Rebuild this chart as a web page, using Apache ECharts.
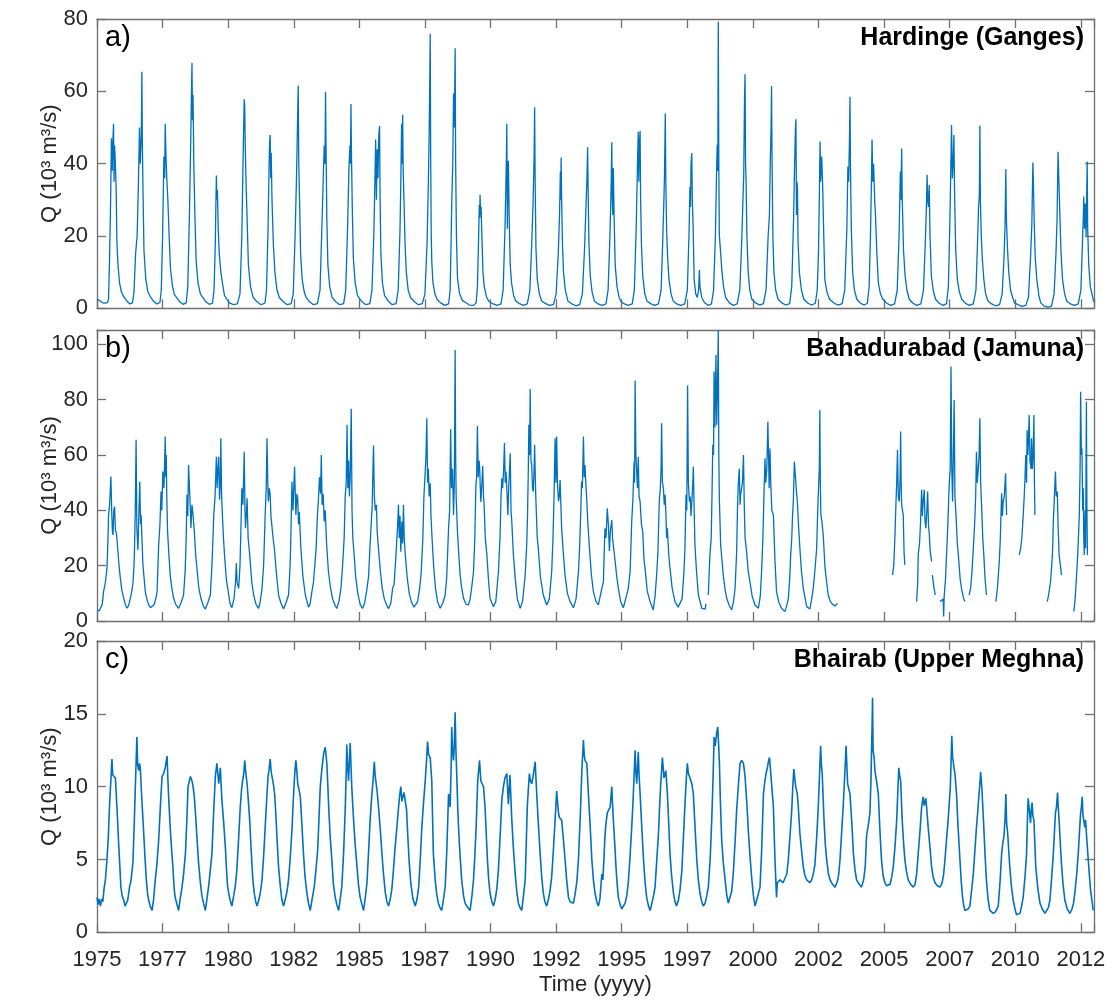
<!DOCTYPE html>
<html>
<head>
<meta charset="utf-8">
<script src="https://cdn.jsdelivr.net/npm/echarts@6/dist/echarts.min.js"></script>
<style>
html, body { margin: 0; padding: 0; background: #ffffff; }
#chart { width: 1113px; height: 1003px; }
</style>
</head>
<body>
<div id="chart"></div>
<script>
// Daily discharge (10^3 m^3/s) traced as [decimal year, Q]; null marks a gap in the record.
const hardinge = [
[1975.00,2.6],[1975.05,2.2],[1975.12,2.0],[1975.20,1.6],[1975.30,1.4],[1975.40,1.6],[1975.44,2.5],[1975.48,14],[1975.52,30],[1975.55,47],[1975.58,38],[1975.60,45],[1975.63,51],[1975.65,35],[1975.67,45],[1975.70,40],[1975.73,33],[1975.76,18],[1975.80,12],[1975.86,7],[1975.93,4.5],
[1976.02,3.2],[1976.12,2.2],[1976.25,1.2],[1976.35,1.5],[1976.41,4.5],[1976.47,15],[1976.53,20],[1976.58,35],[1976.62,50],[1976.65,40],[1976.69,48],[1976.71,65.4],[1976.73,45],[1976.75,34],[1976.79,16],[1976.86,8],[1976.94,4.5],
[1977.05,3],[1977.15,2],[1977.28,1.2],[1977.40,1.6],[1977.45,5],[1977.50,20],[1977.55,42],[1977.58,36],[1977.60,51],[1977.63,42],[1977.66,36],[1977.70,30],[1977.75,20],[1977.80,11],[1977.88,6],[1977.95,3.8],
[1978.05,2.8],[1978.15,1.8],[1978.28,1.1],[1978.40,1.5],[1978.46,6],[1978.52,25],[1978.57,45],[1978.60,59.4],[1978.62,67.9],[1978.64,52],[1978.66,59],[1978.69,40],[1978.73,26],[1978.78,13],[1978.85,7],[1978.94,4],
[1979.05,2.8],[1979.15,1.8],[1979.28,1.1],[1979.40,1.4],[1979.46,5],[1979.51,18],[1979.53,28],[1979.55,36.7],[1979.57,30],[1979.59,32.7],[1979.62,22],[1979.66,15],[1979.72,10],[1979.78,7],[1979.86,3.5],[1979.95,2.5],
[1980.05,1.5],[1980.20,1.0],[1980.35,1.2],[1980.45,4],[1980.52,20],[1980.56,38],[1980.59,50],[1980.61,57.8],[1980.63,56],[1980.65,45],[1980.68,35],[1980.72,25],[1980.77,12],[1980.85,6],[1980.95,3],
[1981.10,1.8],[1981.25,1.0],[1981.40,1.4],[1981.46,5],[1981.52,22],[1981.56,40],[1981.58,46],[1981.60,47.9],[1981.62,36],[1981.64,43],[1981.67,30],[1981.72,18],[1981.78,10],[1981.86,5],[1981.95,3],
[1982.10,1.8],[1982.25,1.0],[1982.40,1.3],[1982.48,4],[1982.55,20],[1982.60,35],[1982.64,50],[1982.67,61.6],[1982.69,40],[1982.72,30],[1982.76,15],[1982.82,8],[1982.90,4.5],[1982.97,3],
[1983.10,1.8],[1983.25,1.0],[1983.40,1.3],[1983.50,5],[1983.57,22],[1983.62,35],[1983.66,45],[1983.69,40],[1983.71,59.9],[1983.73,45],[1983.76,25],[1983.80,12],[1983.87,6],[1983.96,3],
[1984.10,1.8],[1984.25,1.0],[1984.40,1.3],[1984.48,5],[1984.55,22],[1984.60,38],[1984.64,45],[1984.66,40],[1984.68,56.5],[1984.70,42],[1984.73,28],[1984.77,14],[1984.84,7],[1984.93,3.5],
[1985.10,1.8],[1985.25,1.0],[1985.40,1.3],[1985.48,5],[1985.55,20],[1985.60,38],[1985.62,46.7],[1985.65,30],[1985.68,44],[1985.71,36],[1985.74,48],[1985.77,50.4],[1985.79,30],[1985.82,15],[1985.88,7],[1985.96,3.5],
[1986.10,2],[1986.25,1.0],[1986.40,1.3],[1986.48,5],[1986.55,22],[1986.58,35],[1986.61,51],[1986.63,40],[1986.65,53.5],[1986.67,38],[1986.70,30],[1986.74,18],[1986.79,10],[1986.86,5],[1986.95,3],
[1987.10,1.8],[1987.25,1.0],[1987.40,1.3],[1987.50,4],[1987.58,18],[1987.63,35],[1987.66,48],[1987.68,61],[1987.70,75.9],[1987.72,40],[1987.74,20],[1987.76,13],[1987.80,7.4],[1987.88,4],[1987.96,2.5],
[1988.10,1.5],[1988.25,0.8],[1988.40,1.2],[1988.46,5],[1988.50,20],[1988.52,29],[1988.56,40],[1988.59,59.4],[1988.62,50],[1988.65,71.9],[1988.67,40],[1988.70,20],[1988.74,8.3],[1988.82,4],[1988.92,2.2],
[1989.05,1.6],[1989.20,0.9],[1989.35,0.8],[1989.45,1.5],[1989.50,6],[1989.54,18],[1989.57,28.6],[1989.59,25],[1989.60,31.3],[1989.62,26],[1989.64,28],[1989.67,20],[1989.71,10],[1989.76,6],[1989.85,3],[1989.95,1.8],
[1990.10,1.2],[1990.25,0.8],[1990.40,1.2],[1990.48,5],[1990.55,22],[1990.60,40],[1990.62,51],[1990.64,22],[1990.66,35],[1990.68,40.8],[1990.71,25],[1990.75,12],[1990.80,7],[1990.88,3.5],[1990.96,2],
[1991.10,1.3],[1991.25,0.8],[1991.40,1.2],[1991.50,5],[1991.57,18],[1991.62,29],[1991.66,42],[1991.68,55.6],[1991.70,35],[1991.73,16.6],[1991.78,8],[1991.86,4],[1991.95,2],
[1992.10,1.3],[1992.25,0.8],[1992.40,1.1],[1992.50,4],[1992.58,15],[1992.63,26],[1992.66,37.8],[1992.68,30],[1992.69,41.7],[1992.71,30],[1992.74,18],[1992.78,10],[1992.85,5],[1992.95,2],
[1993.10,1.2],[1993.25,0.7],[1993.40,1.1],[1993.50,4],[1993.58,16],[1993.64,28.6],[1993.67,35],[1993.70,44.5],[1993.72,32],[1993.75,18],[1993.80,9],[1993.87,4.5],[1993.96,2],
[1994.10,1.2],[1994.25,0.8],[1994.40,1.2],[1994.48,5],[1994.55,20],[1994.60,35],[1994.62,45.9],[1994.64,30],[1994.66,25.8],[1994.68,38.7],[1994.71,25],[1994.75,12],[1994.82,6],[1994.90,3],[1994.98,1.8],
[1995.10,1.2],[1995.25,0.8],[1995.40,1.2],[1995.48,5],[1995.55,22],[1995.60,40],[1995.63,48.8],[1995.65,35],[1995.67,45],[1995.70,49],[1995.72,30],[1995.75,18],[1995.80,9],[1995.88,4],[1995.96,2],
[1996.10,1.3],[1996.25,0.8],[1996.40,1.2],[1996.50,5],[1996.56,18],[1996.60,28],[1996.63,36.9],[1996.66,53.9],[1996.68,35],[1996.71,22],[1996.75,14],[1996.80,8],[1996.88,4],[1996.96,2],
[1997.10,1.2],[1997.25,0.8],[1997.40,1.2],[1997.50,5],[1997.57,22],[1997.60,33.6],[1997.62,28],[1997.64,39.6],[1997.67,42.9],[1997.69,30],[1997.72,23],[1997.76,8],[1997.82,4],[1997.88,3],[1997.93,5],[1997.96,10.6],[1997.98,6],[1998.05,3],
[1998.15,1.6],[1998.30,0.8],[1998.42,1.2],[1998.50,5],[1998.57,20],[1998.62,40],[1998.64,45.2],[1998.66,38],[1998.68,79.3],[1998.70,40],[1998.72,20.3],[1998.77,15.2],[1998.82,10],[1998.88,6],[1998.96,3],
[1999.10,1.5],[1999.25,0.8],[1999.40,1.2],[1999.50,5],[1999.57,18],[1999.62,30],[1999.65,36.9],[1999.68,58],[1999.70,64.7],[1999.72,40],[1999.74,35],[1999.77,20],[1999.82,10],[1999.88,5],[1999.96,2.5],
[2000.10,1.5],[2000.25,0.9],[2000.40,1.3],[2000.50,5],[2000.58,20],[2000.63,25.8],[2000.66,40],[2000.69,49.3],[2000.71,61.5],[2000.73,40],[2000.76,20],[2000.80,10],[2000.87,5],[2000.96,2.5],
[2001.10,1.5],[2001.25,0.9],[2001.40,1.3],[2001.48,6],[2001.55,25],[2001.59,40],[2001.62,49.8],[2001.64,52.3],[2001.66,25.8],[2001.68,35],[2001.70,32.7],[2001.72,18.4],[2001.77,10],[2001.85,5],[2001.94,2.5],
[2002.10,1.4],[2002.25,0.9],[2002.38,1.4],[2002.45,5],[2002.50,15.7],[2002.53,30],[2002.56,46.1],[2002.58,35],[2002.62,42],[2002.66,33.6],[2002.70,20],[2002.74,8],[2002.82,4.5],[2002.92,2.5],
[2003.10,1.4],[2003.25,0.9],[2003.40,1.3],[2003.50,5],[2003.58,22],[2003.62,39.2],[2003.65,35],[2003.68,47],[2003.70,58.5],[2003.72,38],[2003.75,22],[2003.80,10],[2003.87,5],[2003.96,2.5],
[2004.10,1.4],[2004.25,0.9],[2004.36,1.4],[2004.43,6],[2004.48,20],[2004.52,36],[2004.54,46.7],[2004.57,35],[2004.60,40],[2004.64,30],[2004.67,26],[2004.72,16],[2004.78,7],[2004.86,4],[2004.95,2.5],
[2005.10,1.4],[2005.25,0.8],[2005.40,1.2],[2005.50,5],[2005.57,20],[2005.62,37.8],[2005.64,30],[2005.67,44.2],[2005.69,30],[2005.71,25],[2005.74,16],[2005.80,9],[2005.87,5],[2005.96,2.5],
[2006.10,1.4],[2006.25,0.8],[2006.40,1.2],[2006.50,5],[2006.57,18],[2006.61,27.6],[2006.64,36.9],[2006.66,30],[2006.69,28],[2006.72,34.1],[2006.75,20],[2006.80,9],[2006.87,5],[2006.96,2.5],
[2007.10,1.4],[2007.25,0.8],[2007.38,1.3],[2007.45,6],[2007.51,25],[2007.55,42],[2007.57,50.7],[2007.60,35.9],[2007.63,40],[2007.66,47.9],[2007.69,30],[2007.73,16],[2007.79,8],[2007.87,4.5],[2007.96,2.5],
[2008.10,1.4],[2008.25,0.8],[2008.40,1.2],[2008.50,5],[2008.56,18],[2008.60,28],[2008.63,31.3],[2008.65,50.5],[2008.67,30],[2008.70,21],[2008.74,14],[2008.80,8],[2008.87,4],[2008.96,2],
[2009.10,1.2],[2009.25,0.7],[2009.40,1.0],[2009.50,4],[2009.57,14],[2009.61,23],[2009.64,38.5],[2009.66,25],[2009.70,17],[2009.75,10],[2009.82,5],[2009.90,3],[2009.97,1.5],
[2010.10,1.0],[2010.25,0.5],[2010.40,0.8],[2010.50,3],[2010.58,14],[2010.63,23],[2010.67,40.3],[2010.69,35],[2010.72,24],[2010.76,14],[2010.82,8],[2010.90,3.5],[2010.97,1.5],
[2011.10,0.6],[2011.25,0.3],[2011.38,0.6],[2011.48,4],[2011.55,15],[2011.59,24],[2011.63,43.3],[2011.65,38],[2011.69,28],[2011.74,16],[2011.80,8],[2011.88,4],[2011.96,2],
[2012.10,1.2],[2012.25,0.8],[2012.40,1.2],[2012.50,5],[2012.56,18],[2012.60,27],[2012.61,30.9],[2012.64,22],[2012.67,29],[2012.70,20],[2012.74,40.6],[2012.76,22],[2012.80,12],[2012.86,6],[2012.90,5.5],[2012.99,1.8]
];

const bahadurabad = [
[1975.00,4.0],[1975.08,3.6],[1975.13,4.0],[1975.20,6],[1975.25,10.6],[1975.32,14],[1975.38,19],[1975.42,30],[1975.44,38.3],[1975.48,42],[1975.53,52.2],[1975.56,40],[1975.59,32],[1975.61,31.1],[1975.64,40],[1975.67,41.3],[1975.70,33],[1975.74,31.7],[1975.79,26.3],[1975.84,20],[1975.89,15.4],[1975.95,11],[1976.02,8.2],[1976.08,6],[1976.14,4.6],
[1976.20,5.5],[1976.27,8.2],[1976.33,11],[1976.37,13.6],[1976.41,20],[1976.43,26.3],[1976.46,40],[1976.49,65.5],[1976.52,33.5],[1976.56,25.7],[1976.60,40],[1976.63,50.4],[1976.66,35],[1976.68,38.3],[1976.72,28],[1976.75,20.3],[1976.80,15],[1976.84,10.6],[1976.90,8],[1976.97,5.8],[1977.04,4.8],[1977.10,4.3],
[1977.18,6],[1977.25,8.5],[1977.29,10.6],[1977.35,27.5],[1977.40,35],[1977.44,46.8],[1977.47,40],[1977.51,54],[1977.55,48],[1977.58,58],[1977.60,66.7],[1977.62,52],[1977.64,60],[1977.66,45],[1977.69,32.3],[1977.74,24],[1977.79,16.6],[1977.85,12],[1977.92,8.2],[1978.00,6],[1978.11,4.6],
[1978.20,6.5],[1978.30,9.4],[1978.36,18],[1978.40,30],[1978.43,45.6],[1978.46,38],[1978.49,56.4],[1978.53,46.8],[1978.56,40],[1978.58,33.5],[1978.62,42],[1978.66,38.3],[1978.71,32.3],[1978.76,24],[1978.81,19],[1978.88,12],[1978.96,8.2],[1979.05,5.5],[1979.13,4.3],
[1979.22,6.5],[1979.32,9.4],[1979.38,20],[1979.42,30],[1979.45,38.3],[1979.50,45],[1979.55,59.4],[1979.58,48],[1979.61,55],[1979.64,59.4],[1979.67,43.8],[1979.70,50],[1979.72,66.1],[1979.75,45],[1979.78,38.3],[1979.82,30],[1979.86,23.9],[1979.93,15],[1980.02,9.4],[1980.08,6],[1980.14,4.8],
[1980.22,8],[1980.28,14],[1980.31,20.9],[1980.34,14],[1980.40,11.8],[1980.45,20],[1980.49,35],[1980.52,48],[1980.56,42],[1980.59,52],[1980.61,61.2],[1980.64,40],[1980.66,33.5],[1980.69,38],[1980.72,44.4],[1980.76,30],[1980.82,23.9],[1980.90,14],[1980.97,9.4],[1981.06,6],[1981.16,4.6],
[1981.22,7],[1981.29,11.8],[1981.35,20],[1981.41,38.3],[1981.45,48],[1981.48,66.1],[1981.51,50],[1981.53,43.2],[1981.57,48],[1981.60,45.6],[1981.63,38],[1981.67,38.3],[1981.71,30],[1981.76,26.3],[1981.83,18],[1981.92,9.4],[1982.01,6.5],[1982.11,4.3],
[1982.20,6.5],[1982.30,9.4],[1982.36,20],[1982.40,35],[1982.43,50.4],[1982.47,40],[1982.50,48],[1982.53,55.8],[1982.56,45],[1982.58,38.3],[1982.62,46],[1982.65,44.4],[1982.68,35],[1982.71,39.5],[1982.77,26.3],[1982.85,16],[1982.94,9.4],[1983.06,5],
[1983.12,6],[1983.19,10.6],[1983.25,14],[1983.30,20],[1983.35,26],[1983.40,38],[1983.44,44],[1983.48,52],[1983.52,46],[1983.55,60],[1983.58,42],[1983.62,46],[1983.66,36],[1983.70,40],[1983.75,28],[1983.82,18],[1983.90,12],[1983.98,8],[1984.08,5.5],[1984.14,4.5],
[1984.22,7],[1984.30,12],[1984.36,20],[1984.42,30],[1984.46,45],[1984.50,50],[1984.53,70.9],[1984.56,48],[1984.59,58],[1984.62,45],[1984.65,52],[1984.69,76.7],[1984.72,40],[1984.75,30],[1984.80,24],[1984.86,16],[1984.94,10],[1985.03,6],[1985.12,4.5],
[1985.20,6.5],[1985.28,11],[1985.35,16],[1985.40,26],[1985.45,35],[1985.49,42],[1985.52,56],[1985.54,63.4],[1985.57,45],[1985.61,40],[1985.65,42],[1985.68,32],[1985.73,26],[1985.80,18],[1985.87,12],[1985.95,8],[1986.05,5.5],[1986.12,4.5],
[1986.20,6.5],[1986.27,12],[1986.32,13],[1986.37,20],[1986.42,28],[1986.46,35],[1986.49,42],[1986.52,30],[1986.55,38],[1986.58,25],[1986.62,36],[1986.65,28],[1986.68,42],[1986.71,30],[1986.75,24],[1986.82,16],[1986.90,10],[1986.98,7],[1987.08,5],[1987.15,4.5],
[1987.22,7],[1987.30,12],[1987.36,18],[1987.42,30],[1987.46,45],[1987.50,52],[1987.54,60],[1987.57,73.3],[1987.60,50],[1987.63,55],[1987.66,45],[1987.70,49.8],[1987.73,38],[1987.77,30],[1987.83,20],[1987.90,12],[1987.98,7],[1988.08,4.6],
[1988.18,6.5],[1988.27,9.4],[1988.33,16],[1988.40,33.5],[1988.44,40],[1988.48,69.4],[1988.51,48],[1988.55,55],[1988.59,38.3],[1988.62,50],[1988.65,98],[1988.67,60],[1988.69,44.4],[1988.74,32],[1988.79,24],[1988.84,16.6],[1988.90,12],[1988.97,8.2],[1989.07,6],[1989.16,5.8],
[1989.22,8],[1989.28,12],[1989.35,17.8],[1989.40,30],[1989.44,48.6],[1989.47,52],[1989.50,70.5],[1989.53,52],[1989.56,58],[1989.58,56.4],[1989.61,48],[1989.63,43],[1989.67,50],[1989.70,56],[1989.73,45],[1989.75,43],[1989.80,30],[1989.86,23.9],[1989.92,15],[1989.98,8.2],[1990.05,6.5],[1990.11,5.2],
[1990.20,7],[1990.30,17.8],[1990.36,30],[1990.40,45],[1990.43,51.6],[1990.46,48],[1990.50,55],[1990.53,64.3],[1990.56,50],[1990.59,54],[1990.62,48],[1990.66,38.3],[1990.70,50],[1990.75,60.6],[1990.78,40],[1990.81,35.9],[1990.87,24],[1990.94,15.4],[1991.02,8],[1991.13,4.6],
[1991.22,7],[1991.32,16.6],[1991.38,28],[1991.41,38.3],[1991.44,55],[1991.46,70.9],[1991.49,60],[1991.51,83.9],[1991.54,58],[1991.57,56.4],[1991.60,48],[1991.63,46.8],[1991.66,55],[1991.68,63.7],[1991.71,50],[1991.73,43.2],[1991.78,30],[1991.82,26.3],[1991.90,16],[1992.01,9.4],[1992.14,5.8],
[1992.24,8],[1992.33,17.8],[1992.38,30],[1992.42,45],[1992.46,66.1],[1992.49,50],[1992.52,66.7],[1992.55,50],[1992.59,43.2],[1992.62,45],[1992.65,51],[1992.68,42],[1992.71,33.5],[1992.77,25],[1992.84,16.6],[1992.93,10],[1993.03,7],[1993.16,4.8],
[1993.26,8],[1993.35,17.8],[1993.40,28],[1993.44,40],[1993.47,50.4],[1993.50,48],[1993.54,66.7],[1993.57,52],[1993.60,56.4],[1993.63,50],[1993.67,43.2],[1993.71,35],[1993.77,26.3],[1993.84,17],[1993.92,10.6],[1994.02,7],[1994.11,5.8],
[1994.18,9],[1994.24,11.8],[1994.30,14],[1994.36,33.5],[1994.40,30],[1994.45,40.7],[1994.49,35],[1994.53,25.3],[1994.57,33],[1994.62,36.5],[1994.65,30],[1994.68,27.5],[1994.72,24],[1994.75,21.5],[1994.81,16],[1994.87,11.8],[1994.96,7],[1995.06,4.8],
[1995.15,8],[1995.25,11.8],[1995.32,18],[1995.38,35.9],[1995.43,45],[1995.47,57.6],[1995.49,50],[1995.51,86.9],[1995.54,60],[1995.57,60],[1995.60,48],[1995.63,59.4],[1995.66,45],[1995.70,43.2],[1995.75,35],[1995.80,32.3],[1995.85,22],[1995.89,19],[1995.97,11],[1996.08,7],[1996.20,4],
[1996.27,9],[1996.33,16.6],[1996.38,25],[1996.43,43.2],[1996.47,48],[1996.50,55],[1996.52,71.5],[1996.55,50],[1996.59,48],[1996.62,42],[1996.65,45.6],[1996.68,40],[1996.71,30],[1996.74,33.5],[1996.79,24],[1996.84,19],[1996.92,12],[1997.03,7],[1997.15,5],[1997.22,4.3],
[1997.30,8],[1997.36,16],[1997.41,26.3],[1997.45,45.6],[1997.48,40],[1997.51,85.1],[1997.54,50],[1997.58,43.2],[1997.61,45],[1997.64,38],[1997.67,38.3],[1997.70,48],[1997.73,55.8],[1997.76,40],[1997.79,27.5],[1997.85,18],[1997.92,9.4],[1998.00,6.5],[1998.05,4.6],[1998.12,4.0],[1998.18,4.3],[1998.21,6.2],[1998.25,null],
[1998.30,9.4],[1998.36,23.9],[1998.41,30],[1998.44,45],[1998.47,63.7],[1998.50,60],[1998.52,90.2],[1998.55,70],[1998.59,96.2],[1998.62,70.9],[1998.65,85],[1998.68,105.2],[1998.70,60],[1998.72,44.4],[1998.77,27.5],[1998.82,22],[1998.87,16.6],[1998.93,12],[1999.00,8.2],[1999.10,5.5],[1999.19,4],
[1999.26,7],[1999.32,11.8],[1999.38,25],[1999.41,40],[1999.44,49.2],[1999.48,55],[1999.51,42],[1999.53,45.6],[1999.57,48],[1999.60,50],[1999.64,60],[1999.67,42],[1999.70,30],[1999.76,25],[1999.82,18],[1999.89,14],[1999.97,9],[2000.08,5.8],[2000.21,4.6],
[2000.28,9],[2000.33,17.8],[2000.38,30],[2000.42,45],[2000.46,58.8],[2000.49,50],[2000.53,55],[2000.57,72],[2000.60,57.6],[2000.62,48],[2000.65,62.4],[2000.68,50],[2000.72,40],[2000.78,38.3],[2000.84,22],[2000.90,10.6],[2000.98,7],[2001.09,4.6],[2001.22,3.4],
[2001.30,6],[2001.35,8.2],[2001.40,15],[2001.44,23.9],[2001.48,29.9],[2001.51,38],[2001.54,43.2],[2001.58,57.6],[2001.62,52.2],[2001.65,48],[2001.67,45.6],[2001.70,42],[2001.73,35.9],[2001.79,26.3],[2001.85,18],[2001.92,11.8],[2002.05,5.2],[2002.17,4.3],
[2002.24,8],[2002.30,11.8],[2002.36,18],[2002.43,26.3],[2002.47,40],[2002.50,48],[2002.53,55],[2002.55,76.3],[2002.57,50],[2002.59,38.3],[2002.63,36],[2002.68,31.1],[2002.75,19],[2002.81,14],[2002.87,9.4],[2002.95,7],[2003.06,5.8],[2003.14,5.5],[2003.19,5.8],[2003.22,6.5],[2003.23,null],
[2005.32,16.6],[2005.34,18],[2005.37,20.3],[2005.41,30],[2005.45,42],[2005.48,50],[2005.51,61.8],[2005.54,45],[2005.58,43.2],[2005.61,52],[2005.63,68.5],[2005.65,50],[2005.67,42],[2005.70,40],[2005.73,38.3],[2005.76,25],[2005.79,20.3],[2005.80,null],
[2006.24,7],[2006.28,14],[2006.30,23.9],[2006.35,28],[2006.39,35.9],[2006.43,47.4],[2006.46,38],[2006.49,43.2],[2006.53,47.4],[2006.56,36],[2006.59,33.5],[2006.63,40],[2006.66,46.8],[2006.69,35],[2006.72,31.7],[2006.76,25],[2006.81,21.5],[2006.82,null],[2006.84,16.6],[2006.90,12],[2006.95,9.4],[2006.96,null],
[2007.13,7],[2007.20,7.5],[2007.25,8],[2007.27,1.6],[2007.29,9],[2007.34,15],[2007.38,23.9],[2007.43,35],[2007.48,49.2],[2007.52,55],[2007.55,92],[2007.58,55],[2007.61,43.2],[2007.64,60],[2007.67,79.9],[2007.70,45],[2007.74,38.3],[2007.79,28],[2007.83,23.9],[2007.90,15],[2007.95,11.8],[2008.02,8.5],[2008.08,7],[2008.10,null],
[2008.24,9.4],[2008.30,12],[2008.35,18],[2008.40,26.3],[2008.45,35],[2008.49,45],[2008.52,61.2],[2008.55,50],[2008.59,55],[2008.62,60],[2008.65,73.3],[2008.68,50],[2008.71,43.2],[2008.76,30],[2008.80,23.9],[2008.85,15],[2008.90,9.4],[2008.92,null],
[2009.26,7],[2009.32,12],[2009.39,21.5],[2009.43,30],[2009.46,40],[2009.48,46.2],[2009.51,38],[2009.54,43.2],[2009.58,45],[2009.61,50],[2009.63,53.4],[2009.65,45],[2009.67,38.3],[2009.70,null],
[2010.15,23.9],[2010.20,26],[2010.25,30],[2010.30,38],[2010.34,45],[2010.37,52],[2010.40,60],[2010.43,50],[2010.45,69],[2010.48,60],[2010.50,65],[2010.53,74.5],[2010.56,58],[2010.58,57.6],[2010.60,55],[2010.62,66.1],[2010.65,55],[2010.68,60],[2010.71,74.5],[2010.73,50],[2010.75,38.3],[2010.77,null],
[2011.22,7],[2011.28,10],[2011.34,14],[2011.38,19],[2011.42,25],[2011.45,35.9],[2011.49,45],[2011.53,54],[2011.56,45],[2011.60,46.8],[2011.63,35],[2011.67,23.9],[2011.72,20],[2011.76,16.6],[2011.78,null],
[2012.23,3.4],[2012.28,8],[2012.33,15.4],[2012.38,24],[2012.44,38.3],[2012.47,55],[2012.49,82.9],[2012.52,60],[2012.54,62.4],[2012.57,40],[2012.59,48],[2012.61,30],[2012.63,23.9],[2012.66,40],[2012.68,26.3],[2012.71,79.3],[2012.73,40],[2012.75,23.9]
];

const bhairab = [
[1975.00,2.4],[1975.04,1.9],[1975.08,2.3],[1975.13,1.8],[1975.18,2.3],[1975.22,2.1],[1975.27,3.0],[1975.32,3.6],[1975.38,5.0],[1975.43,6.5],[1975.48,8.8],[1975.53,10.5],[1975.57,11.9],[1975.60,10.8],[1975.64,10.7],[1975.70,10.6],[1975.76,8.6],[1975.83,5.9],[1975.88,4.2],[1975.91,3.1],[1975.96,2.5],[1976.02,2.2],[1976.07,1.8],[1976.12,1.9],
[1976.17,2.2],[1976.24,3.1],[1976.30,3.6],[1976.37,4.8],[1976.42,7.5],[1976.47,10.5],[1976.52,13.4],[1976.55,11.5],[1976.59,11.1],[1976.62,11.6],[1976.65,11.3],[1976.71,9.1],[1976.78,6.8],[1976.84,4.8],[1976.88,3.6],[1976.93,2.6],[1976.97,2.2],[1977.03,1.8],[1977.10,1.5],
[1977.16,2.3],[1977.22,3.6],[1977.28,4.6],[1977.35,6.3],[1977.42,8.8],[1977.48,10.7],[1977.54,10.9],[1977.60,11.3],[1977.67,12.1],[1977.70,10.6],[1977.73,9.3],[1977.79,7.2],[1977.85,5.5],[1977.90,4.3],[1977.94,3.0],[1977.98,2.4],[1978.05,1.9],[1978.11,1.5],
[1978.17,2.3],[1978.24,3.1],[1978.30,4.0],[1978.37,5.4],[1978.42,7.5],[1978.47,10.0],[1978.52,10.4],[1978.56,10.7],[1978.62,10.4],[1978.67,9.9],[1978.71,9.3],[1978.76,8.0],[1978.81,6.5],[1978.87,4.8],[1978.94,3.4],[1979.00,2.5],[1979.06,2.0],[1979.13,1.5],
[1979.19,2.3],[1979.25,3.1],[1979.31,4.1],[1979.38,5.4],[1979.44,8.0],[1979.51,10.7],[1979.57,11.6],[1979.64,10.2],[1979.70,11.3],[1979.76,9.1],[1979.83,7.5],[1979.89,5.9],[1979.94,4.2],[1979.98,3.1],[1980.06,2.3],[1980.14,1.8],
[1980.22,2.6],[1980.28,3.3],[1980.33,4.3],[1980.40,6.5],[1980.46,8.6],[1980.51,9.8],[1980.55,10.4],[1980.60,11.0],[1980.63,11.8],[1980.68,10.8],[1980.72,10.2],[1980.77,9.0],[1980.82,7.7],[1980.88,5.5],[1980.94,3.6],[1981.00,2.6],[1981.05,2.1],[1981.10,1.8],
[1981.18,2.3],[1981.24,2.9],[1981.29,3.6],[1981.35,5.2],[1981.41,7.2],[1981.47,9.2],[1981.52,10.7],[1981.56,11.2],[1981.60,11.9],[1981.64,11.0],[1981.67,10.7],[1981.72,10.2],[1981.77,9.5],[1981.82,8.0],[1981.86,6.5],[1981.92,4.5],[1981.99,3.1],[1982.05,2.2],[1982.11,1.8],
[1982.18,2.3],[1982.24,2.8],[1982.30,3.6],[1982.36,5.0],[1982.43,7.0],[1982.48,9.0],[1982.52,10.4],[1982.55,11.2],[1982.58,11.8],[1982.62,11.0],[1982.65,10.2],[1982.70,9.8],[1982.75,9.3],[1982.81,7.4],[1982.87,5.4],[1982.93,3.8],[1983.00,2.7],[1983.06,2.0],[1983.13,1.5],
[1983.20,2.3],[1983.28,3.1],[1983.34,4.2],[1983.41,5.6],[1983.46,7.8],[1983.51,10.0],[1983.57,11.2],[1983.64,12.3],[1983.70,12.7],[1983.76,11.6],[1983.80,10.0],[1983.83,8.6],[1983.89,6.5],[1983.95,5.0],[1984.01,3.3],[1984.08,2.4],[1984.14,1.9],[1984.21,1.5],
[1984.27,2.3],[1984.33,3.1],[1984.40,5.5],[1984.46,8.4],[1984.50,11.0],[1984.52,12.9],[1984.55,11.5],[1984.59,10.4],[1984.62,11.8],[1984.65,13.0],[1984.68,11.5],[1984.71,10.0],[1984.78,7.7],[1984.84,6.0],[1984.91,4.5],[1984.97,3.2],[1985.03,2.4],[1985.10,1.9],[1985.16,1.5],
[1985.22,2.3],[1985.29,3.4],[1985.35,5.5],[1985.41,7.7],[1985.47,9.3],[1985.52,10.4],[1985.57,11.7],[1985.60,10.8],[1985.64,10.2],[1985.68,9.6],[1985.73,8.6],[1985.80,7.0],[1985.86,5.4],[1985.92,4.0],[1985.99,2.7],[1986.05,2.1],[1986.11,1.8],
[1986.18,2.3],[1986.24,3.0],[1986.30,4.3],[1986.36,5.8],[1986.43,7.2],[1986.48,8.3],[1986.53,9.3],[1986.58,10.0],[1986.62,9.0],[1986.66,9.3],[1986.70,9.6],[1986.75,9.7],[1986.80,8.4],[1986.84,6.8],[1986.90,4.8],[1986.96,3.4],[1987.04,2.3],[1987.13,1.8],
[1987.20,2.3],[1987.26,3.1],[1987.32,5.0],[1987.38,7.2],[1987.45,9.0],[1987.51,10.4],[1987.56,11.8],[1987.60,13.1],[1987.64,12.2],[1987.70,12.0],[1987.76,10.4],[1987.82,5.4],[1987.89,3.6],[1987.95,2.6],[1988.01,2.0],[1988.07,1.7],[1988.14,1.5],
[1988.20,2.2],[1988.27,3.1],[1988.33,5.5],[1988.40,9.5],[1988.46,8.6],[1988.50,11.5],[1988.52,14.1],[1988.55,12.5],[1988.59,11.8],[1988.62,13.0],[1988.65,15.1],[1988.68,12.5],[1988.71,10.9],[1988.75,8.5],[1988.78,7.2],[1988.84,5.2],[1988.90,3.6],[1988.97,2.5],[1989.03,2.0],[1989.09,1.8],[1989.15,1.7],[1989.22,1.5],
[1989.29,2.5],[1989.35,3.6],[1989.40,5.2],[1989.45,7.2],[1989.51,10.4],[1989.58,11.8],[1989.63,10.4],[1989.68,10.2],[1989.73,10.0],[1989.79,8.6],[1989.84,6.6],[1989.88,5.0],[1989.93,3.6],[1989.98,2.7],[1990.05,2.1],[1990.11,1.8],
[1990.18,2.3],[1990.24,3.0],[1990.30,4.3],[1990.37,6.8],[1990.43,9.1],[1990.49,10.0],[1990.55,10.6],[1990.62,10.9],[1990.68,8.8],[1990.74,10.8],[1990.81,7.7],[1990.87,5.8],[1990.94,4.0],[1991.00,2.8],[1991.06,2.0],[1991.12,1.7],[1991.19,1.5],
[1991.26,2.6],[1991.32,3.6],[1991.36,6.0],[1991.40,8.6],[1991.44,9.8],[1991.48,10.9],[1991.52,10.4],[1991.57,10.2],[1991.63,10.8],[1991.66,11.2],[1991.70,11.7],[1991.76,9.5],[1991.82,7.5],[1991.89,5.4],[1991.95,3.8],[1992.01,2.7],[1992.07,2.1],[1992.14,1.8],
[1992.21,2.3],[1992.27,2.9],[1992.33,3.8],[1992.40,5.8],[1992.46,7.7],[1992.50,9.0],[1992.52,9.7],[1992.56,8.8],[1992.59,8.2],[1992.62,7.9],[1992.67,7.8],[1992.71,7.7],[1992.78,6.3],[1992.84,5.0],[1992.90,3.6],[1992.97,2.4],[1993.03,2.1],[1993.09,2.0],[1993.16,2.0],
[1993.22,2.6],[1993.29,3.5],[1993.35,5.0],[1993.42,8.0],[1993.48,11.1],[1993.54,13.2],[1993.57,12.2],[1993.60,11.8],[1993.64,11.9],[1993.67,11.6],[1993.73,9.5],[1993.80,7.2],[1993.86,5.0],[1993.92,3.6],[1993.98,2.7],[1994.05,2.1],[1994.11,1.8],
[1994.17,2.3],[1994.24,4.0],[1994.28,3.6],[1994.32,5.0],[1994.36,6.6],[1994.40,7.5],[1994.45,8.2],[1994.50,8.4],[1994.56,8.6],[1994.62,10.0],[1994.65,8.8],[1994.68,7.7],[1994.73,6.2],[1994.78,4.5],[1994.83,3.2],[1994.87,2.4],[1994.94,1.9],[1995.00,1.6],[1995.06,1.5],
[1995.13,2.0],[1995.19,2.5],[1995.25,3.4],[1995.31,5.0],[1995.38,7.2],[1995.43,9.0],[1995.47,10.7],[1995.51,12.5],[1995.54,11.0],[1995.57,10.2],[1995.60,11.2],[1995.63,12.4],[1995.66,10.8],[1995.70,9.5],[1995.77,7.0],[1995.83,5.0],[1995.89,3.4],[1995.95,2.4],[1996.02,1.8],[1996.08,1.5],
[1996.15,2.0],[1996.21,2.5],[1996.27,3.1],[1996.33,4.8],[1996.40,6.8],[1996.44,8.5],[1996.48,10.0],[1996.55,12.0],[1996.61,10.6],[1996.68,11.1],[1996.74,9.5],[1996.79,7.5],[1996.84,5.4],[1996.90,3.9],[1996.97,2.7],[1997.03,2.1],[1997.09,1.8],
[1997.16,2.2],[1997.22,2.9],[1997.29,4.2],[1997.35,6.5],[1997.41,8.8],[1997.46,10.5],[1997.50,11.6],[1997.54,10.9],[1997.58,10.7],[1997.62,10.5],[1997.67,10.2],[1997.73,9.5],[1997.80,7.0],[1997.86,5.0],[1997.92,3.6],[1997.98,2.7],[1998.05,2.1],[1998.11,1.8],
[1998.18,2.0],[1998.24,2.5],[1998.30,3.1],[1998.37,5.0],[1998.43,7.7],[1998.48,10.5],[1998.52,13.4],[1998.56,12.8],[1998.59,13.2],[1998.62,13.7],[1998.66,14.1],[1998.69,13.0],[1998.72,11.8],[1998.76,9.0],[1998.81,6.3],[1998.87,4.8],[1998.94,3.6],[1999.00,2.6],[1999.06,2.0],
[1999.13,1.9],[1999.19,2.8],[1999.25,4.0],[1999.32,6.2],[1999.38,8.4],[1999.45,10.2],[1999.51,11.6],[1999.57,11.8],[1999.64,11.6],[1999.70,10.7],[1999.77,8.8],[1999.83,6.8],[1999.89,5.2],[1999.95,3.8],[2000.02,2.5],[2000.08,1.8],
[2000.14,2.2],[2000.20,2.6],[2000.27,3.1],[2000.33,5.5],[2000.40,9.5],[2000.45,10.3],[2000.50,10.9],[2000.55,11.3],[2000.60,11.8],[2000.63,12.0],[2000.65,11.6],[2000.72,10.0],[2000.78,8.6],[2000.84,5.0],[2000.90,2.4],[2000.93,3.4],[2000.97,3.4],[2001.03,3.6],[2001.09,3.6],[2001.15,3.4],[2001.22,3.4],
[2001.29,4.0],[2001.35,5.0],[2001.42,6.8],[2001.48,8.4],[2001.52,10.0],[2001.56,11.2],[2001.60,10.5],[2001.63,10.0],[2001.69,9.5],[2001.73,8.6],[2001.79,6.8],[2001.86,5.5],[2001.92,4.5],[2001.98,3.9],[2002.05,3.6],[2002.11,3.5],[2002.17,3.4],
[2002.24,3.6],[2002.30,4.0],[2002.36,4.6],[2002.43,6.5],[2002.49,8.6],[2002.54,10.8],[2002.58,12.8],[2002.61,11.5],[2002.64,10.9],[2002.71,7.7],[2002.76,6.0],[2002.81,5.0],[2002.88,4.0],[2002.94,3.6],[2003.03,3.3],[2003.13,3.1],
[2003.22,3.5],[2003.27,4.0],[2003.32,5.0],[2003.38,6.8],[2003.44,8.6],[2003.50,10.8],[2003.55,12.8],[2003.58,11.5],[2003.61,10.2],[2003.66,9.8],[2003.70,9.5],[2003.77,7.5],[2003.83,5.4],[2003.89,4.3],[2003.95,3.6],[2004.05,3.3],[2004.14,3.1],
[2004.22,3.6],[2004.28,4.5],[2004.33,6.6],[2004.40,7.4],[2004.46,8.2],[2004.50,10.5],[2004.52,12.3],[2004.54,14.0],[2004.56,16.1],[2004.58,12.5],[2004.62,12.0],[2004.65,11.1],[2004.71,10.4],[2004.78,9.5],[2004.84,7.0],[2004.90,5.0],[2004.96,3.9],[2005.03,3.4],[2005.10,3.2],[2005.16,3.1],
[2005.23,3.3],[2005.29,3.8],[2005.35,4.5],[2005.42,6.0],[2005.48,7.7],[2005.53,10.0],[2005.56,11.3],[2005.59,10.8],[2005.63,10.4],[2005.69,7.7],[2005.74,6.2],[2005.79,5.0],[2005.85,4.2],[2005.92,3.6],[2006.01,3.3],[2006.11,3.1],
[2006.18,3.3],[2006.24,4.0],[2006.30,5.4],[2006.37,7.0],[2006.43,8.6],[2006.49,9.3],[2006.53,8.7],[2006.56,8.8],[2006.59,9.2],[2006.62,8.6],[2006.68,7.2],[2006.75,5.8],[2006.81,4.5],[2006.87,3.8],[2006.94,3.4],[2007.03,3.2],[2007.13,3.1],
[2007.21,3.4],[2007.27,4.0],[2007.32,5.0],[2007.38,6.4],[2007.44,7.7],[2007.48,8.8],[2007.52,9.8],[2007.55,11.5],[2007.58,13.5],[2007.61,12.0],[2007.63,11.8],[2007.67,11.2],[2007.70,10.9],[2007.76,9.5],[2007.82,7.2],[2007.89,5.0],[2007.94,3.5],[2007.99,2.4],[2008.04,1.8],[2008.08,1.5],
[2008.14,1.4],[2008.20,1.6],[2008.27,1.8],[2008.33,2.8],[2008.40,4.0],[2008.46,5.6],[2008.52,7.2],[2008.57,8.3],[2008.61,9.3],[2008.65,10.2],[2008.68,11.0],[2008.73,9.8],[2008.80,7.2],[2008.85,5.2],[2008.90,3.6],[2008.96,2.3],[2009.03,1.5],[2009.10,1.4],[2009.16,1.3],
[2009.24,1.4],[2009.30,1.6],[2009.35,1.8],[2009.42,3.5],[2009.48,5.4],[2009.53,6.2],[2009.57,6.6],[2009.61,7.8],[2009.64,9.5],[2009.67,7.5],[2009.71,6.8],[2009.75,5.6],[2009.79,4.5],[2009.85,3.2],[2009.92,2.2],[2010.00,1.5],[2010.05,1.2],[2010.11,1.1],
[2010.18,1.3],[2010.24,1.8],[2010.30,2.4],[2010.37,3.8],[2010.43,5.4],[2010.46,7.5],[2010.49,9.2],[2010.53,8.5],[2010.58,7.5],[2010.61,8.4],[2010.64,8.9],[2010.67,8.0],[2010.71,7.7],[2010.78,4.5],[2010.86,3.0],[2010.94,2.0],[2011.03,1.6],[2011.13,1.3],
[2011.20,1.4],[2011.26,1.7],[2011.32,2.2],[2011.38,3.6],[2011.45,5.4],[2011.49,6.8],[2011.53,8.2],[2011.57,8.6],[2011.61,9.6],[2011.64,8.5],[2011.67,7.7],[2011.71,6.3],[2011.76,4.7],[2011.82,3.3],[2011.89,2.2],[2011.98,1.6],[2012.08,1.3],
[2012.16,1.6],[2012.22,2.0],[2012.27,2.7],[2012.34,4.0],[2012.40,5.4],[2012.45,7.0],[2012.49,8.2],[2012.52,8.6],[2012.55,9.3],[2012.58,8.0],[2012.61,7.7],[2012.65,7.2],[2012.68,7.7],[2012.71,6.8],[2012.78,5.0],[2012.83,3.8],[2012.87,2.9],[2012.92,2.2],[2012.97,1.5]
];

const stationNames = ['Hardinge (Ganges)', 'Bahadurabad (Jamuna)', 'Bhairab (Upper Meghna)'];
const panelTags = ['a)', 'b)', 'c)'];
const seriesData = [hardinge, bahadurabad, bhairab];
const qMax = [80, 105.2, 20];
const qStep = [20, 20, 5];
const timeStart = 1975, timeEnd = 2013, timeStep = 2.5;
const yTitle = 'Q (10\u00B3 m\u00B3/s)';
const xTitle = 'Time (yyyy)';

// Panel frames in pixels
const frames = [
  { top: 19, height: 289.3 },
  { top: 330, height: 291 },
  { top: 641, height: 291.3 }
];
const LEFT = 97, RIGHT = 19;
const FONT = '"Liberation Sans", Arial, Helvetica, sans-serif';
const FRAME_COLOR = '#6f6f6f';
const TEXT_COLOR = '#262626';
const LINE_COLOR = '#0072BD';

function yearLabel(v) {
  const k = (v - timeStart) / timeStep;
  return Math.abs(k - Math.round(k)) < 1e-6 ? String(Math.floor(v + 1e-9)) : '';
}
function stepLabel(step) {
  return function (v) {
    const k = v / step;
    return Math.abs(k - Math.round(k)) < 1e-6 ? String(Math.round(v)) : '';
  };
}

const frameLine = { show: true, onZero: false, lineStyle: { color: FRAME_COLOR, width: 1.3 } };
const innerTick = { show: true, inside: true, length: 9, lineStyle: { color: FRAME_COLOR, width: 1.3 } };

const grid = [], xAxis = [], yAxis = [], series = [], graphic = [];

frames.forEach(function (f, i) {
  const last = i === frames.length - 1;
  grid.push({ left: LEFT, right: RIGHT, top: f.top, height: f.height, containLabel: false });

  const xCommon = {
    type: 'value', gridIndex: i, min: timeStart, max: timeEnd, interval: timeStep,
    axisLine: frameLine, axisTick: innerTick, splitLine: { show: false }
  };
  xAxis.push(Object.assign({}, xCommon, {
    position: 'bottom',
    axisLabel: { show: last, margin: 17, fontSize: 22, color: TEXT_COLOR, fontFamily: FONT, formatter: yearLabel },
    name: last ? xTitle : '',
    nameLocation: 'middle', nameGap: 42, nameMoveOverlap: false,
    nameTextStyle: { fontSize: 22, color: TEXT_COLOR, fontFamily: FONT }
  }));
  xAxis.push(Object.assign({}, xCommon, { position: 'top', axisLabel: { show: false } }));

  const yCommon = {
    type: 'value', gridIndex: i, min: 0, max: qMax[i], interval: qStep[i],
    axisLine: frameLine, axisTick: innerTick, splitLine: { show: false }
  };
  yAxis.push(Object.assign({}, yCommon, {
    position: 'left',
    axisLabel: { show: true, margin: 9, fontSize: 22, color: TEXT_COLOR, fontFamily: FONT,
                 padding: [5, 0, 0, 0], formatter: stepLabel(qStep[i]) },
    name: yTitle, nameLocation: 'middle', nameRotate: 90, nameGap: 36, nameMoveOverlap: false,
    nameTextStyle: { fontSize: 22, color: TEXT_COLOR, fontFamily: FONT }
  }));
  yAxis.push(Object.assign({}, yCommon, { position: 'right', axisLabel: { show: false } }));

  series.push({
    type: 'line', name: stationNames[i],
    xAxisIndex: 2 * i, yAxisIndex: 2 * i,
    data: seriesData[i],
    showSymbol: false, symbol: 'none', connectNulls: false, clip: true,
    lineStyle: { color: LINE_COLOR, width: i === 2 ? 1.6 : 1.3 },
    emphasis: { disabled: true },
    animation: false
  });

  graphic.push({
    type: 'text', x: 105, y: f.top + 19,
    style: { text: panelTags[i], fontSize: 29, fontFamily: FONT, fill: '#000000', align: 'left', verticalAlign: 'middle' },
    z: 100
  });
  graphic.push({
    type: 'text', x: 1084, y: f.top + 19.5,
    style: { text: stationNames[i], fontSize: 25, fontWeight: 'bold', fontFamily: FONT, fill: '#000000', align: 'right', verticalAlign: 'middle' },
    z: 100
  });
});

const chart = echarts.init(document.getElementById('chart'), null, { renderer: 'canvas' });
chart.setOption({
  animation: false,
  backgroundColor: '#ffffff',
  grid: grid,
  xAxis: xAxis,
  yAxis: yAxis,
  series: series,
  graphic: graphic
});
</script>
</body>
</html>
